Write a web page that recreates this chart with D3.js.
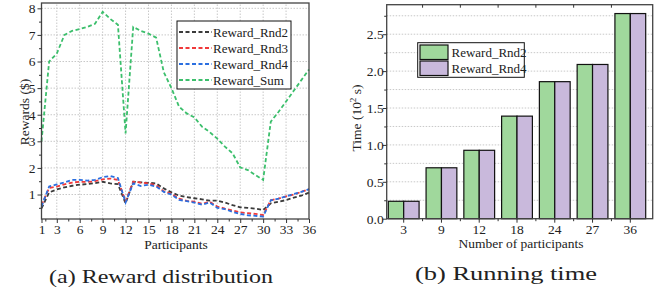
<!DOCTYPE html>
<html><head><meta charset="utf-8">
<script src="https://cdn.jsdelivr.net/npm/d3@7"></script>
<style>body{margin:0;background:#fff}svg{display:block}svg text{font-family:"Liberation Serif","Times New Roman",Times,serif !important;fill:#222}</style>
</head><body><svg id="c" width="672" height="295"></svg>
<script>
// ---------- data ----------
const participants = d3.range(1, 37);
const rewardRnd2 = [0.48,1.08,1.19,1.27,1.33,1.37,1.39,1.43,1.48,1.42,1.39,0.67,1.48,1.46,1.44,1.42,1.23,1.08,0.96,0.90,0.86,0.82,0.77,0.77,0.70,0.60,0.52,0.50,0.47,0.42,0.67,0.73,0.79,0.88,0.96,1.07];
const rewardRnd3 = [0.60,1.25,1.30,1.38,1.45,1.48,1.47,1.50,1.57,1.60,1.55,0.75,1.48,1.45,1.42,1.35,1.12,1.03,0.85,0.76,0.73,0.65,0.73,0.55,0.47,0.40,0.33,0.30,0.27,0.23,0.78,0.85,0.93,1.00,1.10,1.20];
const rewardRnd4 = [0.55,1.30,1.38,1.45,1.55,1.55,1.52,1.55,1.65,1.70,1.62,0.70,1.42,1.32,1.37,1.30,1.10,1.00,0.80,0.75,0.70,0.62,0.70,0.50,0.45,0.35,0.27,0.22,0.20,0.17,0.78,0.85,0.93,1.02,1.10,1.20];
const rewardSum  = [3.00,6.00,6.30,7.00,7.15,7.22,7.30,7.42,7.87,7.60,7.38,3.30,7.30,7.15,7.05,6.90,5.60,5.00,4.30,4.05,3.90,3.55,3.35,3.10,2.80,2.55,2.02,1.92,1.73,1.55,3.74,4.10,4.50,4.90,5.30,5.70];
const lineSeries = ["Reward_Rnd2","Reward_Rnd3","Reward_Rnd4","Reward_Sum"];
const xTicksA = [1,3,6,9,12,15,18,21,24,27,30,33,36];
const xMinorA = [1.5,4.5,7.5,10.5,13.5,16.5,19.5,22.5,25.5,28.5,31.5,34.5];
const yTicksA = [1,2,3,4,5,6,7,8];
const yMinorA = [0.5,1.5,2.5,3.5,4.5,5.5,6.5,7.5];

const groups = ["3","9","12","18","24","27","36"];
const timeRnd2 = [0.236,0.69,0.927,1.39,1.857,2.09,2.78];
const timeRnd4 = [0.236,0.69,0.927,1.39,1.857,2.09,2.78];
const barSeries = ["Reward_Rnd2","Reward_Rnd4"];
const yTicksB = [0,0.5,1.0,1.5,2.0,2.5];
const yGridB = [0.25,0.5,0.75,1.0,1.25,1.5,1.75,2.0,2.25,2.5,2.75];

// ---------- chart (a) ----------
const svg = d3.select("#c");
const lineColors = ["#3a3a3a","#f0393a","#2b6fe0","#3cbf6c"];
const xA = d3.scaleLinear().domain([1,36]).range([41.5,309]);
const yA = d3.scaleLinear().domain([0.08,8.2]).range([219,3]);
const gA = svg.append("g");

gA.append("g").selectAll("line").data(xTicksA.slice(1,-1)).join("line")
  .attr("x1",d=>xA(d)).attr("x2",d=>xA(d)).attr("y1",yA.range()[0]).attr("y2",yA.range()[1])
  .attr("stroke","#c8c8c8").attr("stroke-width",1).attr("stroke-dasharray","1.5,1.5");
gA.append("g").selectAll("line").data(yTicksA).join("line")
  .attr("x1",xA.range()[0]).attr("x2",xA.range()[1]).attr("y1",d=>yA(d)).attr("y2",d=>yA(d))
  .attr("stroke","#c8c8c8").attr("stroke-width",1).attr("stroke-dasharray","1.5,1.5");

const seriesData = [rewardRnd2,rewardRnd3,rewardRnd4,rewardSum];
const lineGen = d3.line().x((d,i)=>xA(participants[i])).y(d=>yA(d));
seriesData.forEach((s,k)=>{
  gA.append("path").datum(s).attr("d",lineGen).attr("fill","none")
    .attr("stroke",lineColors[k]).attr("stroke-width",1.8).attr("stroke-dasharray","4,2.5");
});

gA.append("rect").attr("x",xA.range()[0]).attr("y",yA.range()[1])
  .attr("width",xA.range()[1]-xA.range()[0]).attr("height",yA.range()[0]-yA.range()[1])
  .attr("fill","none").attr("stroke","#444").attr("stroke-width",1.3);

const axA = gA.append("g").attr("transform",`translate(0,${yA.range()[0]})`)
  .call(d3.axisBottom(xA).tickValues(xTicksA).tickSize(4).tickSizeOuter(0));
axA.attr("font-family",null);
axA.select(".domain").remove();
axA.selectAll("text").attr("font-size",13.5).attr("dy","0.85em").attr("y",4);
axA.selectAll("line").attr("stroke","#333");
gA.append("g").attr("transform",`translate(0,${yA.range()[0]})`)
  .call(d3.axisBottom(xA).tickValues(xMinorA).tickSize(2.5).tickFormat(""))
  .call(g=>g.select(".domain").remove()).selectAll("line").attr("stroke","#333");
const ayA = gA.append("g").attr("transform",`translate(${xA.range()[0]},0)`)
  .call(d3.axisLeft(yA).tickValues(yTicksA).tickSize(4).tickFormat(d3.format("d")));
ayA.attr("font-family",null);
ayA.select(".domain").remove();
ayA.selectAll("text").attr("font-size",13.5).attr("x",-6);
ayA.selectAll("line").attr("stroke","#333");
gA.append("g").attr("transform",`translate(${xA.range()[0]},0)`)
  .call(d3.axisLeft(yA).tickValues(yMinorA).tickSize(2.5).tickFormat(""))
  .call(g=>g.select(".domain").remove()).selectAll("line").attr("stroke","#333");

gA.append("text").attr("transform","translate(29,112) rotate(-90)").attr("text-anchor","middle")
  .attr("font-size",13.5).text("Rewards ($)");
gA.append("text").attr("x",176).attr("y",248.5).attr("text-anchor","middle").attr("font-size",13.5).text("Participants");

const legA = gA.append("g");
legA.append("rect").attr("x",177).attr("y",21).attr("width",114).attr("height",68)
  .attr("fill","#fff").attr("stroke","#111").attr("stroke-width",1);
lineSeries.forEach((n,k)=>{
  const cy = 32 + k*16;
  legA.append("line").attr("x1",179).attr("x2",212).attr("y1",cy).attr("y2",cy)
    .attr("stroke",lineColors[k]).attr("stroke-width",1.8).attr("stroke-dasharray","4,2.5");
  legA.append("text").attr("x",213).attr("y",cy+4.5).attr("font-size",13).text(n);
});

gA.append("text").attr("x",161).attr("y",283).attr("text-anchor","middle")
  .attr("font-size",19).attr("textLength",224).attr("lengthAdjust","spacingAndGlyphs").text("(a) Reward distribution");

// ---------- chart (b) ----------
const gB = svg.append("g");
const xB = d3.scaleBand().domain(groups).range([388.3,645.7]).paddingInner(0.185).paddingOuter(0.0);
const xSub = d3.scaleBand().domain(barSeries).range([0,xB.bandwidth()]);
const yB = d3.scaleLinear().domain([0,2.9]).range([218.7,4.7]);
const barColors = ["#a0d89c","#c9b9dc"];
const L = 386.7, R = 652.7;

gB.append("g").selectAll("line").data(yGridB).join("line")
  .attr("x1",L).attr("x2",R).attr("y1",d=>yB(d)).attr("y2",d=>yB(d))
  .attr("stroke","#c8c8c8").attr("stroke-width",1).attr("stroke-dasharray","1.5,1.5");

const barData = [timeRnd2,timeRnd4];
groups.forEach((g,i)=>{
  barSeries.forEach((s,k)=>{
    gB.append("rect").attr("x",xB(g)+xSub(s)).attr("y",yB(barData[k][i]))
      .attr("width",xSub.bandwidth()).attr("height",yB(0)-yB(barData[k][i]))
      .attr("fill",barColors[k]).attr("stroke","#111").attr("stroke-width",1.2);
  });
});

gB.append("rect").attr("x",L).attr("y",yB.range()[1]).attr("width",R-L).attr("height",yB.range()[0]-yB.range()[1])
  .attr("fill","none").attr("stroke","#444").attr("stroke-width",1.3);

const axB = gB.append("g").attr("transform",`translate(0,${yB.range()[0]})`)
  .call(d3.axisBottom(xB).tickSize(4).tickSizeOuter(0));
axB.attr("font-family",null);
axB.select(".domain").remove();
axB.selectAll("text").attr("font-size",13.5).attr("y",4).attr("dy","0.85em");
axB.selectAll("line").attr("stroke","#333");
const bounds = groups.slice(0,-1).map(g=>xB(g)+xB.bandwidth()+xB.step()*xB.paddingInner()/2);
gB.append("g").selectAll("line").data(bounds).join("line")
  .attr("x1",d=>d).attr("x2",d=>d).attr("y1",yB(0)).attr("y2",yB(0)+2.5).attr("stroke","#333");
gB.append("g").selectAll("line").data(bounds).join("line")
  .attr("x1",d=>d).attr("x2",d=>d).attr("y1",yB.range()[1]).attr("y2",yB.range()[1]+3).attr("stroke","#333");

const ayB = gB.append("g").attr("transform",`translate(${L},0)`)
  .call(d3.axisLeft(yB).tickValues(yTicksB).tickSize(4).tickFormat(d3.format(".1f")));
ayB.attr("font-family",null);
ayB.select(".domain").remove();
ayB.selectAll("text").attr("font-size",13.5).attr("x",-3);
ayB.selectAll("line").attr("stroke","#333");
gB.append("g").attr("transform",`translate(${L},0)`)
  .call(d3.axisLeft(yB).tickValues(yGridB.filter((d,i)=>i%2===0)).tickSize(2.5).tickFormat(""))
  .call(g=>g.select(".domain").remove()).selectAll("line").attr("stroke","#333");

const yl = gB.append("text").attr("transform","translate(361,118) rotate(-90)").attr("text-anchor","middle").attr("font-size",13.5);
yl.append("tspan").text("Time (10");
yl.append("tspan").attr("font-size",9).attr("dy",-5).text("2");
yl.append("tspan").attr("dy",5).text(" s)");
gB.append("text").attr("x",521).attr("y",248).attr("text-anchor","middle").attr("font-size",13.5).text("Number of participants");

const legB = gB.append("g");
legB.append("rect").attr("x",417.7).attr("y",42.7).attr("width",106.6).attr("height",34.6)
  .attr("fill","#fff").attr("stroke","#111").attr("stroke-width",1);
barSeries.forEach((n,k)=>{
  const y0 = 45 + k*16;
  legB.append("rect").attr("x",420).attr("y",y0).attr("width",28).attr("height",14.5)
    .attr("fill",barColors[k]).attr("stroke","#111").attr("stroke-width",1.2);
  legB.append("text").attr("x",451.5).attr("y",y0+11.5).attr("font-size",13).text(n);
});

gB.append("text").attr("x",506).attr("y",280).attr("text-anchor","middle")
  .attr("font-size",19).attr("textLength",182).attr("lengthAdjust","spacingAndGlyphs").text("(b) Running time");
</script></body></html>
